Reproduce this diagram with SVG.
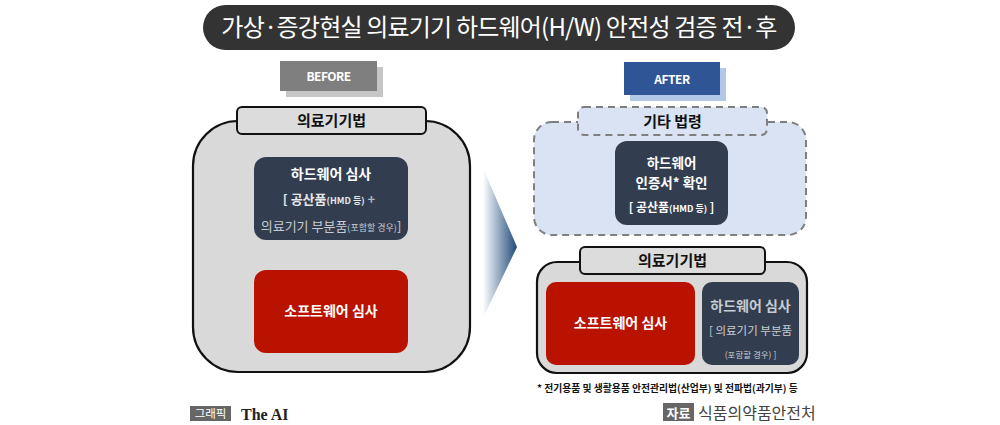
<svg xmlns="http://www.w3.org/2000/svg" width="1000" height="425" viewBox="0 0 1000 425">
<defs>
<style>
.t{font-family:"Noto Sans CJK KR","Noto Sans",sans-serif;}
.w{fill:#fff;font-weight:bold;}
.tab{fill:#dcdcdc;stroke:#111;stroke-width:2;}
.outer{fill:#d9d9d9;stroke:#111;stroke-width:2.2;}
.dark{fill:#323e50;}
.red{fill:#b91300;}
.lbl{font-family:"Noto Sans CJK KR","Noto Sans",sans-serif;font-weight:bold;fill:#111;font-size:15px;text-anchor:middle;}
</style>
<linearGradient id="ag" x1="0" y1="0" x2="1" y2="0">
<stop offset="0" stop-color="#ffffff"/>
<stop offset="1" stop-color="#1f4a7a"/>
</linearGradient>
</defs>
<rect width="1000" height="425" fill="#fff"/>

<g id="title">
<rect x="203" y="5" width="592" height="45" rx="22.5" fill="#333"/>
<text x="499" y="36" class="t" font-size="24" fill="#fff" text-anchor="middle" letter-spacing="-0.8">가상·증강현실 의료기기 하드웨어(H/W) 안전성 검증 전·후</text>
</g>

<g id="before-label">
<rect x="286" y="67" width="97" height="30" fill="#c6c6c6"/>
<rect x="280" y="61" width="97" height="30" fill="#7f7f7f"/>
<text x="328.5" y="81" class="t w" font-size="12" text-anchor="middle" letter-spacing="-0.5">BEFORE</text>
</g>

<g id="before-law">
<rect x="193" y="121" width="277" height="251" rx="45" class="outer"/>
<rect x="237" y="107" width="189" height="27" rx="5" class="tab"/>
<text x="331.5" y="126" class="lbl">의료기기법</text>
</g>

<g id="before-hw">
<rect x="254" y="157" width="154" height="83" rx="12" class="dark"/>
<text x="331" y="179" class="t w" font-size="14" text-anchor="middle">하드웨어 심사</text>
<text x="329" y="204" class="t" font-size="13" fill="#e8e8e8" font-weight="bold" text-anchor="middle">[ 공산품<tspan font-size="9">(HMD 등)</tspan>  <tspan fill="#b0b6c0">+</tspan></text>
<text x="331" y="231" class="t" font-size="13" fill="#c8ccd2" text-anchor="middle">의료기기 부분품<tspan font-size="9">(포함할 경우)</tspan>]</text>
</g>

<g id="before-sw">
<rect x="254" y="270" width="154" height="83" rx="12" class="red"/>
<text x="331" y="316" class="t w" font-size="14" text-anchor="middle">소프트웨어 심사</text>
</g>

<g id="connectors">
<polygon points="483,168 517,247 483,318" fill="url(#ag)"/>
</g>

<g id="after-label">
<rect x="630" y="68" width="96" height="33" fill="#b4c7e7"/>
<rect x="624" y="62" width="96" height="33" fill="#2f5597"/>
<text x="672" y="84" class="t w" font-size="12" text-anchor="middle" letter-spacing="-0.5">AFTER</text>
</g>

<g id="other-law">
<rect x="534" y="122" width="272" height="113" rx="18" fill="#dae3f3" stroke="#7f7f7f" stroke-width="2" stroke-dasharray="7,5"/>
<rect x="578" y="107" width="189" height="28" rx="6" fill="#dae3f3" stroke="#7f7f7f" stroke-width="2" stroke-dasharray="7,5"/>
<text x="672.5" y="127" class="lbl">기타 법령</text>
</g>

<g id="after-hw-cert">
<rect x="615" y="141" width="113" height="84" rx="12" class="dark"/>
<text x="671.5" y="168" class="t w" font-size="13.5" text-anchor="middle">하드웨어</text>
<text x="671.5" y="188" class="t w" font-size="13.5" text-anchor="middle">인증서* 확인</text>
<text x="671.5" y="212" class="t" font-size="12" fill="#fff" font-weight="bold" text-anchor="middle">[ 공산품<tspan font-size="9">(HMD 등)</tspan> ]</text>
</g>

<g id="after-law">
<rect x="537" y="262" width="270" height="111" rx="20" class="outer"/>
<rect x="580" y="247" width="185" height="27" rx="5" class="tab"/>
<text x="672.5" y="266" class="lbl">의료기기법</text>
</g>

<g id="after-sw">
<rect x="546" y="282" width="149" height="83" rx="10" class="red"/>
<text x="620.5" y="328" class="t w" font-size="14" text-anchor="middle">소프트웨어 심사</text>
</g>

<g id="after-hw">
<rect x="702" y="282" width="97" height="83" rx="10" class="dark"/>
<text x="750.5" y="311" class="t" font-size="14" fill="#c8ccd2" font-weight="bold" text-anchor="middle">하드웨어 심사</text>
<text x="750.5" y="335" class="t" font-size="11.5" fill="#c8ccd2" text-anchor="middle">[ 의료기기 부분품</text>
<text x="750.5" y="358" class="t" font-size="8.5" fill="#c8ccd2" text-anchor="middle">(포함할 경우) ]</text>
</g>

<g id="footnote">
<text x="537" y="392" class="t" font-size="9.8" font-weight="bold" fill="#111">* 전기용품 및 생활용품 안전관리법(산업부) 및 전파법(과기부) 등</text>
</g>

<g id="source">
<rect x="663" y="403" width="31" height="18" fill="#666"/>
<text x="678.5" y="418" class="t" font-size="13" fill="#fff" font-weight="bold" text-anchor="middle">자료</text>
<text x="698" y="419" class="t" font-size="16" fill="#444">식품의약품안전처</text>
</g>

<g id="credit">
<rect x="190" y="406" width="41" height="15" fill="#666"/>
<text x="210.5" y="418" class="t" font-size="11.5" fill="#fff" text-anchor="middle">그래픽</text>
<text x="241" y="420" font-family="Liberation Serif,serif" font-size="16" font-weight="bold" fill="#222">The AI</text>
</g>
</svg>
